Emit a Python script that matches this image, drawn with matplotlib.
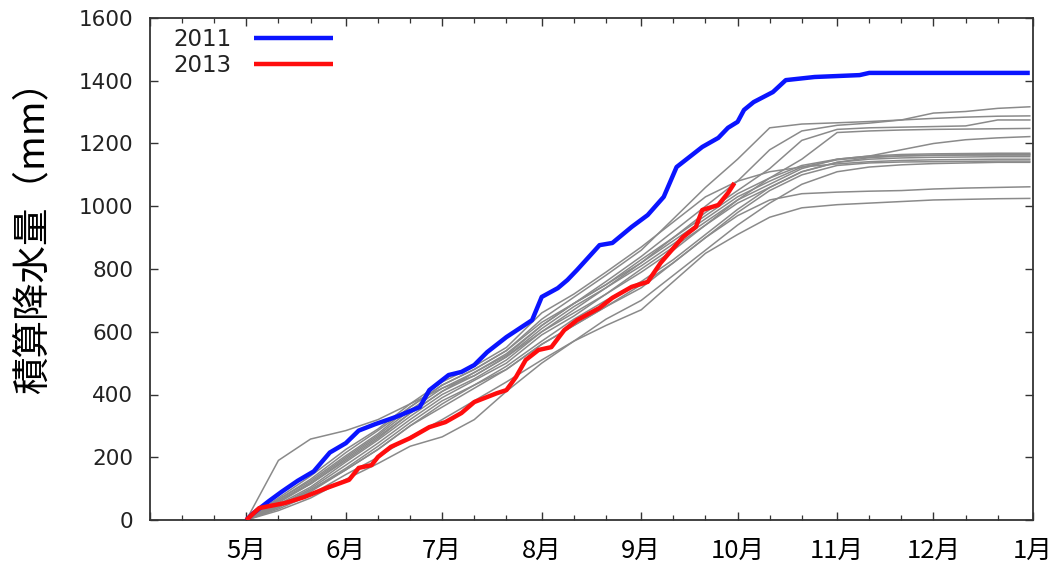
import matplotlib
matplotlib.use("Agg")
import matplotlib.pyplot as plt
import matplotlib.dates as mdates
from matplotlib.ticker import FuncFormatter
from datetime import datetime

# ---------------- data ----------------
# 2011 (blue) cumulative precipitation (mm)
blue_dates = ["05-01", "05-03", "05-08", "05-12", "05-17", "05-22", "05-27", "06-01",
              "06-05", "06-10", "06-17", "06-24", "06-27", "07-03", "07-07", "07-11",
              "07-15", "07-21", "07-29", "08-01", "08-06", "08-09", "08-12", "08-19",
              "08-23", "08-29", "09-03", "09-08", "09-12", "09-16", "09-20", "09-25",
              "09-28", "10-01", "10-03", "10-06", "10-12", "10-16", "10-25", "11-08",
              "11-11", "12-31"]
blue_vals = [0, 20, 60, 90, 125, 155, 215, 245,
             285, 305, 330, 360, 414, 462, 472, 494,
             535, 583, 637, 711, 739, 765, 797, 876,
             883, 934, 972, 1030, 1125, 1157, 1189, 1218,
             1250, 1269, 1307, 1332, 1364, 1402, 1412, 1418,
             1425, 1425]

# 2013 (red)
red_dates = ["05-01", "05-05", "05-13", "05-19", "05-26", "06-02", "06-05", "06-09",
             "06-11", "06-15", "06-21", "06-27", "07-02", "07-07", "07-11", "07-18",
             "07-21", "07-24", "07-27", "07-31", "08-04", "08-08", "08-12", "08-19",
             "08-23", "08-29", "09-03", "09-07", "09-14", "09-18", "09-20", "09-25",
             "09-28", "09-30"]
red_vals = [0, 38, 54, 73, 102, 128, 166, 175,
            201, 233, 261, 296, 312, 341, 376, 404,
            414, 456, 510, 542, 551, 605, 637, 676,
            708, 743, 759, 819, 902, 934, 988, 1004,
            1042, 1074]

# other years (gray), sampled every ~10 days
gray_dates = ["05-01", "05-11", "05-21", "06-01", "06-11", "06-21", "07-01", "07-11",
              "07-21", "08-01", "08-11", "08-21", "09-01", "09-11", "09-21", "10-01",
              "10-11", "10-21", "11-01", "11-11", "11-21", "12-01", "12-11", "12-21",
              "12-31"]
gray_01 = [0, 190, 258, 285, 320, 370, 420, 460, 520, 600, 660, 720, 800, 870, 940, 1010, 1060, 1110, 1140, 1155, 1160, 1162, 1163, 1163, 1163]
gray_02 = [0, 65, 125, 205, 275, 360, 430, 480, 540, 640, 710, 780, 860, 960, 1060, 1150, 1250, 1262, 1266, 1270, 1275, 1280, 1284, 1287, 1288]
gray_03 = [0, 60, 115, 195, 265, 340, 410, 470, 530, 620, 690, 760, 840, 920, 1000, 1080, 1180, 1240, 1258, 1265, 1275, 1297, 1302, 1312, 1317]
gray_04 = [0, 50, 105, 185, 255, 330, 400, 450, 510, 600, 670, 740, 820, 900, 980, 1050, 1120, 1210, 1245, 1250, 1252, 1254, 1256, 1275, 1275]
gray_05 = [0, 45, 100, 175, 245, 320, 390, 445, 500, 590, 650, 720, 790, 860, 940, 1020, 1090, 1150, 1235, 1240, 1243, 1245, 1246, 1247, 1248]
gray_06 = [0, 65, 130, 215, 285, 360, 430, 480, 540, 630, 690, 750, 830, 900, 970, 1040, 1090, 1130, 1150, 1160, 1180, 1200, 1212, 1218, 1222]
gray_07 = [0, 55, 115, 190, 260, 340, 410, 460, 520, 610, 680, 740, 810, 880, 950, 1020, 1070, 1120, 1150, 1160, 1165, 1167, 1168, 1169, 1169]
gray_08 = [0, 40, 90, 160, 225, 300, 370, 430, 490, 570, 640, 700, 760, 830, 910, 990, 1060, 1110, 1140, 1150, 1154, 1156, 1157, 1158, 1158]
gray_09 = [0, 70, 140, 225, 290, 370, 440, 490, 550, 660, 720, 790, 870, 950, 1030, 1080, 1110, 1125, 1135, 1142, 1146, 1148, 1149, 1150, 1150]
gray_10 = [0, 45, 95, 165, 235, 310, 380, 430, 480, 560, 620, 680, 750, 820, 900, 980, 1050, 1100, 1130, 1138, 1141, 1142, 1143, 1144, 1144]
gray_11 = [0, 60, 120, 200, 270, 350, 420, 470, 525, 620, 690, 750, 820, 890, 960, 1030, 1080, 1125, 1148, 1157, 1161, 1163, 1164, 1165, 1165]
gray_12 = [0, 40, 95, 160, 225, 300, 360, 420, 480, 560, 620, 680, 740, 820, 900, 970, 1020, 1040, 1045, 1048, 1050, 1055, 1058, 1060, 1062]
gray_13 = [0, 35, 80, 145, 200, 265, 320, 380, 440, 510, 570, 620, 670, 760, 850, 910, 965, 995, 1005, 1010, 1015, 1020, 1022, 1024, 1025]
gray_14 = [0, 30, 70, 130, 180, 235, 265, 320, 410, 500, 570, 640, 700, 780, 860, 940, 1010, 1070, 1110, 1125, 1132, 1136, 1138, 1140, 1140]
gray_series = [gray_01, gray_02, gray_03, gray_04, gray_05, gray_06, gray_07,
               gray_08, gray_09, gray_10, gray_11, gray_12, gray_13, gray_14]

y_ticks = [0, 200, 400, 600, 800, 1000, 1200, 1400, 1600]
y_label = "積算降水量（mm）"
legend_labels = ["2011", "2013"]


def to_dt(mmdd):
    m, d = int(mmdd[:2]), int(mmdd[3:])
    return datetime(2014 if m < 4 else 2013, m, d)


# ---------------- figure ----------------
fig = plt.figure(figsize=(10.57, 5.69), dpi=100)
ax = fig.add_axes([150 / 1057, 49 / 569, 883 / 1057, 502 / 569])

gx = [to_dt(s) for s in gray_dates]
for g in gray_series:
    ax.plot(gx, g, color="#8a8a8a", lw=1.1, zorder=2)

l11, = ax.plot([to_dt(s) for s in blue_dates], blue_vals, color="#0a14ff", lw=3.2,
               zorder=4, solid_capstyle="butt", label=legend_labels[0])
l13, = ax.plot([to_dt(s) for s in red_dates], red_vals, color="#ff0d0d", lw=3.2,
               zorder=4, solid_capstyle="butt", label=legend_labels[1])

ax.set_xlim(datetime(2013, 4, 1), datetime(2014, 1, 1))
ax.set_ylim(0, 1600)
ax.set_yticks(y_ticks)

ax.xaxis.set_major_locator(mdates.MonthLocator())
ax.xaxis.set_minor_locator(mdates.DayLocator(bymonthday=[11, 21]))


def month_fmt(v, pos):
    m = mdates.num2date(v).month
    return "" if m == 4 else f"{m}月"


ax.xaxis.set_major_formatter(FuncFormatter(month_fmt))

ax.tick_params(which="both", direction="in", top=True, right=True, color="#333333")
ax.tick_params(which="major", length=6, width=1.0)
ax.tick_params(which="minor", length=3.5, width=0.9)
ax.tick_params(axis="x", which="major", pad=13)
ax.tick_params(axis="y", which="major", pad=12)

for lab in ax.get_xticklabels():
    lab.set_fontfamily(["Noto Sans CJK JP", "DejaVu Sans"])
    lab.set_fontsize(18.5)
    lab.set_color("black")
for lab in ax.get_yticklabels():
    lab.set_fontfamily("DejaVu Sans")
    lab.set_fontsize(15.5)
    lab.set_color("#222222")

for sp in ax.spines.values():
    sp.set_linewidth(1.3)
    sp.set_color("#333333")

ax.set_ylabel(y_label, fontsize=27, family=["Noto Sans CJK JP", "DejaVu Sans"],
              va="center")
ax.yaxis.set_label_coords((33 - 150) / 883, (520 - 228) / 502)

leg = ax.legend(handles=[l11, l13], loc="upper left", markerfirst=False, frameon=False,
                bbox_to_anchor=((173 - 150) / 883, (520 - 28) / 502),
                borderaxespad=0, borderpad=0, handlelength=3.45, handletextpad=1.0,
                labelspacing=0.15,
                prop={"family": "DejaVu Sans", "size": 16.5})
for t in leg.get_texts():
    t.set_color("#222222")

fig.savefig("out.png", dpi=100)
